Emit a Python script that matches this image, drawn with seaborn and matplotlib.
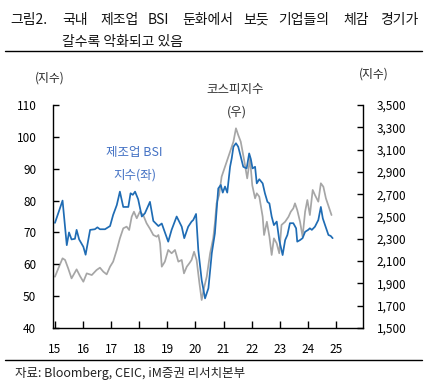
import matplotlib
matplotlib.use("Agg")
import matplotlib.pyplot as plt
import seaborn as sns
import pandas as pd
from matplotlib.lines import Line2D

# ---- data (decimal years) ----
bsi_year = [15.00, 15.27, 15.42, 15.50, 15.59, 15.71, 15.77, 15.86, 16.01, 16.09,
            16.25, 16.42, 16.51, 16.60, 16.78, 16.96, 17.07, 17.20, 17.31, 17.43,
            17.61, 17.69, 17.77, 17.85, 17.96, 18.09, 18.20, 18.38, 18.50, 18.68,
            18.80, 18.88, 19.03, 19.15, 19.33, 19.42, 19.51, 19.60, 19.74, 19.86,
            19.92, 20.02, 20.10, 20.22, 20.34, 20.46, 20.58, 20.69, 20.81, 20.90,
            20.97, 21.05, 21.13, 21.23, 21.29, 21.35, 21.44, 21.52, 21.61, 21.70,
            21.82, 21.91, 21.97, 22.03, 22.12, 22.18, 22.27, 22.39, 22.47, 22.56,
            22.63, 22.71, 22.79, 22.89, 22.98, 23.10, 23.19, 23.27, 23.36, 23.48,
            23.58, 23.62, 23.72, 23.81, 23.90, 24.01, 24.07, 24.14, 24.25, 24.37,
            24.46, 24.53, 24.61, 24.73, 24.81, 24.88]
bsi_value = [73.0, 80.0, 66.0, 70.0, 67.8, 68.0, 70.8, 67.8, 65.5, 63.0,
             70.8, 71.0, 71.6, 71.0, 71.0, 72.0, 75.5, 78.6, 82.8, 78.0,
             78.0, 82.3, 81.8, 82.8, 80.4, 75.0, 76.0, 79.6, 73.6, 72.0,
             72.8, 70.8, 67.1, 70.8, 75.0, 73.4, 71.8, 68.2, 71.8, 73.4,
             73.9, 75.8, 64.5, 55.0, 49.3, 52.5, 63.5, 69.7, 83.8, 84.9,
             82.5, 84.4, 82.5, 90.6, 93.3, 96.9, 98.0, 96.9, 93.8, 90.6,
             90.1, 94.8, 93.0, 90.1, 90.6, 85.4, 86.7, 85.4, 82.3, 79.6,
             79.1, 75.0, 72.3, 73.4, 67.6, 62.9, 67.6, 69.2, 72.9, 72.9,
             71.3, 67.1, 67.6, 68.2, 70.2, 70.8, 71.3, 70.8, 71.8, 73.9,
             78.0, 74.4, 72.3, 69.2, 68.9, 68.2]

kospi_year = [15.00, 15.12, 15.27, 15.36, 15.47, 15.59, 15.77, 15.89, 16.01, 16.13,
              16.31, 16.48, 16.60, 16.72, 16.84, 16.96, 17.07, 17.20, 17.31, 17.43,
              17.55, 17.64, 17.73, 17.81, 17.91, 18.02, 18.14, 18.26, 18.38, 18.50,
              18.62, 18.68, 18.74, 18.80, 18.91, 19.03, 19.15, 19.27, 19.39, 19.51,
              19.59, 19.69, 19.78, 19.86, 19.95, 20.04, 20.14, 20.22, 20.30, 20.40,
              20.52, 20.63, 20.69, 20.75, 20.84, 20.93, 21.01, 21.11, 21.23, 21.35,
              21.44, 21.52, 21.61, 21.73, 21.84, 21.94, 22.02, 22.12, 22.18, 22.27,
              22.39, 22.44, 22.54, 22.63, 22.71, 22.79, 22.89, 22.98, 23.06, 23.19,
              23.31, 23.39, 23.48, 23.54, 23.62, 23.72, 23.81, 23.90, 23.98, 24.07,
              24.17, 24.25, 24.37, 24.46, 24.55, 24.64, 24.76, 24.84]
kospi_value = [1960, 2035, 2125, 2110, 2035, 1945, 2026, 1966, 1915, 1990,
               1975, 2020, 2041, 2005, 1981, 2050, 2095, 2200, 2304, 2394,
               2409, 2379, 2498, 2543, 2484, 2543, 2513, 2439, 2390, 2334,
               2319, 2334, 2259, 2050, 2095, 2200, 2170, 2200, 2095, 2110,
               1990, 2050, 2080, 2110, 2184, 2110, 1901, 1751, 1856, 1960,
               2170, 2304, 2439, 2618, 2693, 2857, 2917, 2991, 3081, 3171,
               3291, 3231, 3171, 3007, 2842, 3020, 2780, 2663, 2708, 2678,
               2498, 2334, 2453, 2319, 2155, 2304, 2259, 2170, 2424, 2453,
               2498, 2543, 2573, 2618, 2558, 2453, 2319, 2543, 2648, 2513,
               2738, 2693, 2633, 2798, 2767, 2663, 2573, 2513]

x_ticks = [15, 16, 17, 18, 19, 20, 21, 22, 23, 24, 25]
x_labels = ["15", "16", "17", "18", "19", "20", "21", "22", "23", "24", "25"]
left_ticks = [40, 50, 60, 70, 80, 90, 100, 110]
right_ticks = [1500, 1700, 1900, 2100, 2300, 2500, 2700, 2900, 3100, 3300, 3500]

title_word_1 = ["그림2.", "국내", "제조업", "BSI", "둔화에서", "보듯", "기업들의", "체감", "경기가"]
title_line_2 = "갈수록 악화되고 있음"
source_text = "자료: Bloomberg, CEIC, iM증권 리서치본부"

# ---- style ----
sns.set_style("ticks")
plt.rcParams["font.family"] = ["Noto Sans CJK KR", "DejaVu Sans"]
plt.rcParams["axes.unicode_minus"] = False

W, H = 430, 388
fig = plt.figure(figsize=(W / 100, H / 100), dpi=100)
ax = fig.add_axes([53 / W, 1 - 328 / H, (363 - 53) / W, (328 - 105) / H])
ax2 = ax.twinx()

bsi_df = pd.DataFrame({"year": bsi_year, "value": bsi_value})
kospi_df = pd.DataFrame({"year": kospi_year, "value": kospi_value})

BLUE = "#1f6cb4"
GRAY = "#a6a6a6"

sns.lineplot(data=kospi_df, x="year", y="value", ax=ax2, color=GRAY, linewidth=1.25)
sns.lineplot(data=bsi_df, x="year", y="value", ax=ax, color=BLUE, linewidth=1.25)

ax.set_zorder(ax2.get_zorder() + 1)
ax.patch.set_visible(False)

ax.set_xlim(14.93, 25.96)
ax.set_ylim(40, 110)
ax2.set_ylim(1500, 3500)

ax.set_xticks(x_ticks)
ax.set_xticklabels(x_labels)
ax.set_yticks(left_ticks)
ax.set_yticklabels([str(v) for v in left_ticks])
ax2.set_yticks(right_ticks)
ax2.set_yticklabels([f"{v:,}" for v in right_ticks])

for a in (ax, ax2):
    a.set_xlabel("")
    a.set_ylabel("")
    a.spines["top"].set_visible(False)
    for s in ("left", "right", "bottom"):
        a.spines[s].set_color("black")
        a.spines[s].set_linewidth(1.0)

ax.spines["right"].set_visible(False)
ax2.spines["left"].set_visible(False)
ax2.spines["bottom"].set_visible(False)
ax2.spines["right"].set_visible(True)

ax.tick_params(axis="y", direction="in", length=4, width=1, pad=12, labelsize=8.5, colors="black")
ax.tick_params(axis="x", direction="in", length=5, width=1, pad=11, labelsize=8.5, colors="black")
ax2.tick_params(axis="y", direction="in", length=4, width=1, pad=10, labelsize=8.5, colors="black")

# ---- texts ----
def px(x, y):
    return x / W, 1 - y / H

title_x = [10, 62, 100, 148, 182, 243, 278, 343, 380]
for word, xx in zip(title_word_1, title_x):
    fig.text(*px(xx, 20), word, fontsize=10, ha="left", va="center", color="#111111")
fig.text(*px(62, 42), title_line_2, fontsize=10, ha="left", va="center", color="#111111")
fig.add_artist(Line2D([5 / W, 422 / W], [1 - 51 / H, 1 - 51 / H], color="black", linewidth=1.0))

fig.text(*px(50, 78), "(지수)", fontsize=8.5, ha="center", va="center", color="#222222")
fig.text(*px(374, 74), "(지수)", fontsize=8.5, ha="center", va="center", color="#222222")

fig.text(*px(134, 153), "제조업 BSI", fontsize=9, ha="center", va="center", color="#4472c4")
fig.text(*px(135, 175), "지수(좌)", fontsize=9, ha="center", va="center", color="#4472c4")
fig.text(*px(235, 90), "코스피지수", fontsize=9, ha="center", va="center", color="#333333")
fig.text(*px(237, 112), "(우)", fontsize=9, ha="center", va="center", color="#333333")

fig.add_artist(Line2D([5 / W, 422 / W], [1 - 360 / H, 1 - 360 / H], color="black", linewidth=1.0))
fig.text(*px(15, 373), source_text, fontsize=9, ha="left", va="center", color="#222222")

fig.savefig("out.png", dpi=100)
